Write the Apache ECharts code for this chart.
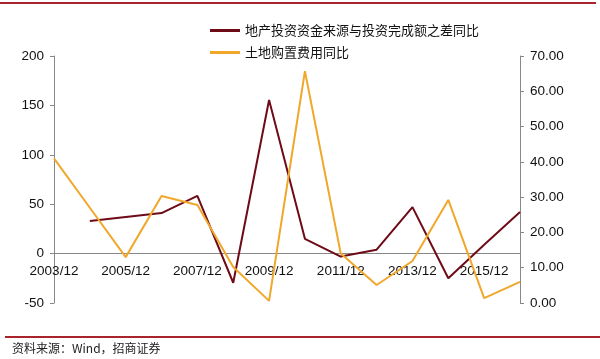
<!DOCTYPE html>
<html><head><meta charset="utf-8">
<script src="https://cdn.jsdelivr.net/npm/echarts@6/dist/echarts.min.js"></script>
<style>html,body{margin:0;padding:0;background:#fff}#c{width:600px;height:359px}</style>
</head><body><div id="c"></div>
<script>
const categories = ['2003/12','2004/12','2005/12','2006/12','2007/12','2008/12','2009/12','2010/12','2011/12','2012/12','2013/12','2014/12','2015/12','2016/12'];
const fundGap = [null, 33, 37, 41, 58.5, -29.5, 155.5, 15, -3, 4, 47, -25, 9, 42];
const landCost = [41, 27, 13, 30.3, 27.8, 10.2, 0.6, 65.7, 14, 5.1, 11.9, 29.2, 1.4, 6];
const leftTicks = [-50, 0, 50, 100, 150, 200];
const rightTicks = [0, 10, 20, 30, 40, 50, 60, 70];
const seriesNames = ['地产投资资金来源与投资完成额之差同比', '土地购置费用同比'];
const sourceText = '资料来源：Wind，招商证券';

const chart = echarts.init(document.getElementById('c'));
const font = 'Liberation Sans, Arial, sans-serif';
chart.setOption({
  animation: false,
  textStyle: {fontFamily: font},
  grid: {left: 54, right: 80, top: 56, bottom: 56},
  legend: {
    orient: 'vertical', left: 205, top: 19, itemGap: 9,
    itemWidth: 30, itemHeight: 3, icon: 'rect',
    textStyle: {fontSize: 13, color: '#111', fontFamily: 'Noto Sans CJK SC'},
    data: seriesNames
  },
  xAxis: {
    type: 'category', data: categories, boundaryGap: false,
    axisLine: {onZero: true, onZeroAxisIndex: 0, lineStyle: {color: '#888', width: 1}},
    axisTick: {show: false},
    axisLabel: {interval: 1, fontSize: 13.5, color: '#111', margin: -39, fontFamily: font},
    splitLine: {show: false}
  },
  yAxis: [{
    type: 'value', min: leftTicks[0], max: leftTicks[leftTicks.length-1], interval: 50,
    axisLine: {show: true, lineStyle: {color: '#888'}},
    axisTick: {show: true, length: 4, lineStyle: {color: '#888'}},
    axisLabel: {fontSize: 13.5, color: '#111', margin: 10},
    splitLine: {show: false}
  }, {
    type: 'value', min: rightTicks[0], max: rightTicks[rightTicks.length-1], interval: 10,
    position: 'right',
    axisLine: {show: true, lineStyle: {color: '#888'}},
    axisTick: {show: true, length: 4, lineStyle: {color: '#888'}},
    axisLabel: {fontSize: 13.5, color: '#111', margin: 10, formatter: v => v.toFixed(2)},
    splitLine: {show: false}
  }],
  series: [{
    name: seriesNames[0], type: 'line', yAxisIndex: 0, data: fundGap,
    showSymbol: false, symbol: 'none', connectNulls: false,
    lineStyle: {color: '#6E0B17', width: 2}, itemStyle: {color: '#6E0B17'}
  }, {
    name: seriesNames[1], type: 'line', yAxisIndex: 1, data: landCost,
    showSymbol: false, symbol: 'none',
    lineStyle: {color: '#F0A72A', width: 2}, itemStyle: {color: '#F0A72A'}
  }],
  graphic: [
    {type: 'rect', shape: {x: 0, y: 2, width: 596, height: 2}, style: {fill: '#A8232B'}},
    {type: 'rect', shape: {x: 5, y: 336, width: 595, height: 2}, style: {fill: '#A8232B'}},
    {type: 'text', left: 12, top: 342, style: {text: sourceText, fontSize: 12, fill: '#222', fontFamily: 'Noto Sans CJK SC'}}
  ]
});
</script></body></html>
